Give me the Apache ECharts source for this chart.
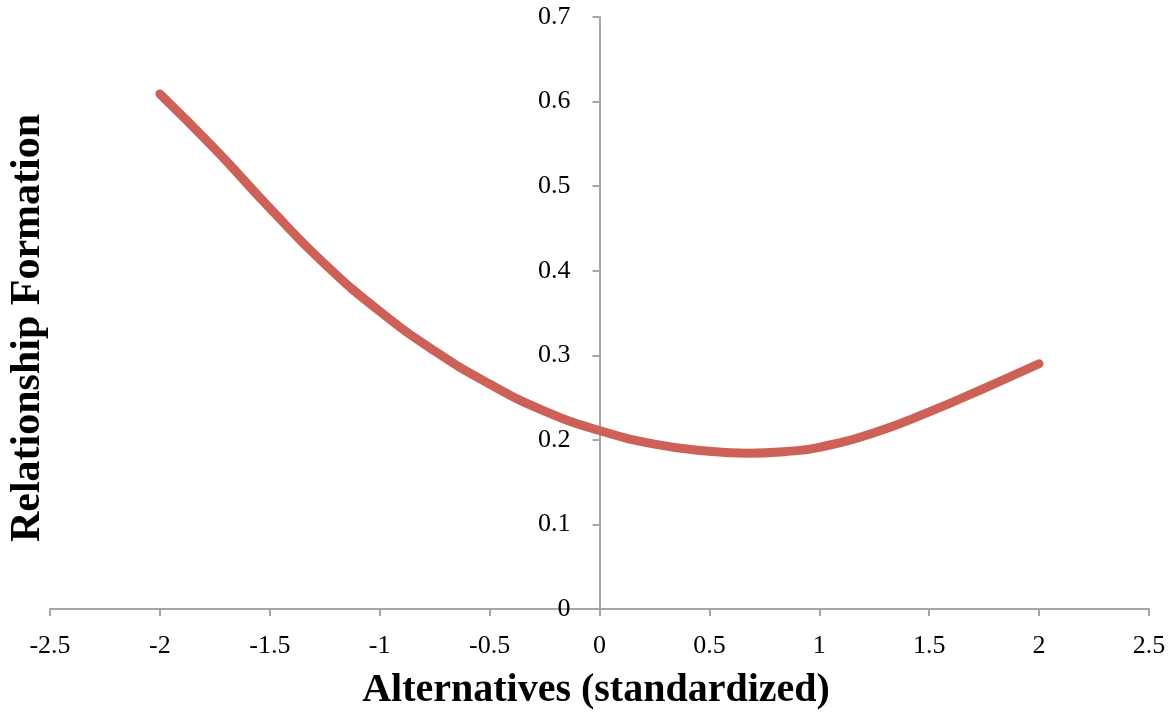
<!DOCTYPE html>
<html>
<head>
<meta charset="utf-8">
<script src="https://cdn.jsdelivr.net/npm/echarts@6/dist/echarts.min.js"></script>
<style>html,body{margin:0;padding:0;background:#fff}#c{width:1172px;height:716px}</style>
</head>
<body>
<div id="c"></div>
<script>
const xValues = [-2, -1.75, -1.5, -1.25, -1, -0.75, -0.5, -0.25, 0, 0.25, 0.5, 0.67, 0.85, 1, 1.25, 1.5, 1.75, 2];
const yValues = [0.609, 0.544, 0.474, 0.408, 0.352, 0.305, 0.266, 0.234, 0.211, 0.195, 0.1865, 0.1842, 0.1862, 0.1912, 0.2085, 0.233, 0.261, 0.290];
const xTitle = 'Alternatives (standardized)';
const yTitle = 'Relationship Formation';

const font = '"Liberation Serif", "DejaVu Serif", serif';
const chart = echarts.init(document.getElementById('c'), null, {renderer: 'canvas'});
const gridLeft = 50, gridRight = 23;
const plotW = 1172 - gridLeft - gridRight;
const xMin = -2.5, xMax = 2.5;
chart.setOption({
  animation: false,
  backgroundColor: '#fff',
  grid: {left: gridLeft, right: gridRight, top: 17, bottom: 107, outerBoundsMode: 'none', containLabel: false},
  xAxis: {
    type: 'value', min: xMin, max: xMax, interval: 0.5,
    axisLine: {show: true, onZero: false, lineStyle: {color: '#a6a6a6', width: 2}},
    axisTick: {show: true, length: 7, lineStyle: {color: '#a6a6a6', width: 2}},
    axisLabel: {fontFamily: font, fontSize: 26, color: '#000', margin: 24},
    splitLine: {show: false}
  },
  yAxis: {
    type: 'value', min: 0, max: 0.7, interval: 0.1,
    position: 'left',
    offset: -plotW * (0 - xMin) / (xMax - xMin),
    axisLine: {show: true, onZero: false, lineStyle: {color: '#a6a6a6', width: 2}},
    axisTick: {show: true, length: 7, lineStyle: {color: '#a6a6a6', width: 2}},
    axisLabel: {fontFamily: font, fontSize: 26, color: '#000', margin: 29},
    splitLine: {show: false}
  },
  graphic: [
    {
      type: 'text', x: 28, y: 328, rotation: Math.PI / 2,
      style: {text: yTitle, fontFamily: font, fontSize: 42, fontWeight: 'bold', fill: '#000', align: 'center', verticalAlign: 'middle'}
    },
    {
      type: 'text', x: 596, y: 691,
      style: {text: xTitle, fontFamily: font, fontSize: 40, fontWeight: 'bold', fill: '#000', align: 'center', verticalAlign: 'middle'}
    }
  ],
  series: [{
    type: 'line',
    data: xValues.map((x, i) => [x, yValues[i]]),
    smooth: 0.5,
    showSymbol: false,
    lineStyle: {color: '#cd6158', width: 9, cap: 'round', join: 'round'}
  }]
});
</script>
</body>
</html>
